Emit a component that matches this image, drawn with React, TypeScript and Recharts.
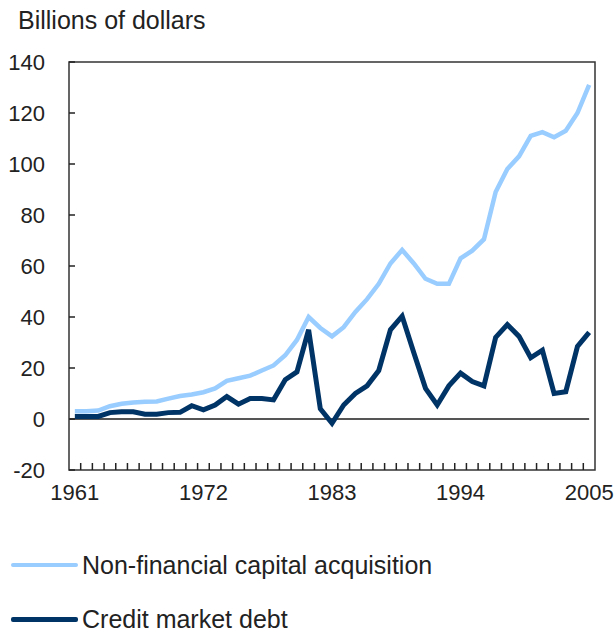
import { LineChart, Line, XAxis, YAxis, ReferenceLine, ReferenceArea } from "recharts";

const years = [
  1961, 1962, 1963, 1964, 1965, 1966, 1967, 1968, 1969, 1970, 1971, 1972, 1973, 1974, 1975,
  1976, 1977, 1978, 1979, 1980, 1981, 1982, 1983, 1984, 1985, 1986, 1987, 1988, 1989, 1990,
  1991, 1992, 1993, 1994, 1995, 1996, 1997, 1998, 1999, 2000, 2001, 2002, 2003, 2004, 2005,
];

// billions of dollars
const capitalAcquisition = [
  3, 3, 3.3, 5, 6, 6.5, 6.8, 6.9, 8, 9, 9.6, 10.5, 12, 15, 16,
  17, 19, 21, 25, 31, 40, 35.7, 32.4, 36, 42, 47, 53, 61, 66.3, 61,
  55, 53, 53, 63, 66, 70.5, 89, 98, 103, 111, 112.5, 110.5, 113, 120, 131,
];
const creditMarketDebt = [
  1, 1, 1, 2.5, 2.8, 2.8, 1.9, 1.9, 2.5, 2.6, 5.2, 3.6, 5.5, 8.8, 5.8,
  8, 8, 7.5, 15.4, 18.5, 35, 4, -1.7, 5.5, 10, 13, 19, 35, 40.3, 26,
  12, 5.5, 13, 18, 14.7, 13, 32, 37, 32.4, 24, 27, 10, 10.7, 28.5, 34,
];

const yearLabels = [1961, 1972, 1983, 1994, 2005];
const valueTicks = [-20, 0, 20, 40, 60, 80, 100, 120, 140];
const yearBoundaries = years.slice(1).map((y) => y - 0.5);

const seriesList = [
  { key: "capital", name: "Non-financial capital acquisition", color: "#99ccff", width: 4.5 },
  { key: "debt", name: "Credit market debt", color: "#003366", width: 5 },
];

const data = years.map((year, i) => ({
  year,
  capital: capitalAcquisition[i],
  debt: creditMarketDebt[i],
}));

const FONT = '"Liberation Sans", Arial, sans-serif';
const PLOT_BOTTOM = 470;

function ValueTick(props: any) {
  const { y, payload } = props;
  return (
    <g>
      <line x1={69} x2={75} y1={y} y2={y} stroke="#222" strokeWidth={1.5} />
      <text x={45} y={y} textAnchor="end" dominantBaseline="central" fontSize={22} fill="#222" fontFamily={FONT}>
        {payload.value}
      </text>
    </g>
  );
}

function YearTick(props: any) {
  const { x, payload } = props;
  return (
    <text x={x} y={PLOT_BOTTOM + 30} textAnchor="middle" fontSize={22} fill="#222" fontFamily={FONT}>
      {payload.value}
    </text>
  );
}

function MinorTick(props: any) {
  const { x } = props;
  return <line x1={x} x2={x} y1={PLOT_BOTTOM} y2={PLOT_BOTTOM - 7} stroke="#222" strokeWidth={1.5} />;
}

export default function App() {
  return (
    <div style={{ position: "absolute", left: 0, top: 0, width: 614, height: 635, background: "#fff", fontFamily: FONT }}>
      <div style={{ position: "absolute", left: 18, top: 8, fontSize: 25, lineHeight: "25px", color: "#222" }}>
        Billions of dollars
      </div>
      <LineChart width={614} height={635} data={data} margin={{ top: 62, right: 19, bottom: 125, left: 0 }}>
        <XAxis
          dataKey="year"
          type="number"
          domain={[1960.5, 2005.5]}
          ticks={yearLabels}
          tick={<YearTick />}
          tickLine={false}
          axisLine={false}
          height={40}
          interval={0}
        />
        <XAxis
          xAxisId="minor"
          dataKey="year"
          type="number"
          domain={[1960.5, 2005.5]}
          ticks={yearBoundaries}
          tick={<MinorTick />}
          tickLine={false}
          axisLine={false}
          mirror
          interval={0}
        />
        <YAxis
          type="number"
          domain={[-20, 140]}
          ticks={valueTicks}
          tick={<ValueTick />}
          tickLine={false}
          axisLine={false}
          width={69}
          interval={0}
        />
        <ReferenceArea x1={1960.5} x2={2005.5} y1={-20} y2={140} fill="none" stroke="#333" strokeWidth={1.5} />
        <ReferenceLine
          segment={[{ x: 1960.5, y: 0 }, { x: 2005, y: 0 }]}
          stroke="#555"
          strokeWidth={2}
        />
        {seriesList.map((s) => (
          <Line
            key={s.key}
            type="linear"
            dataKey={s.key}
            name={s.name}
            stroke={s.color}
            strokeWidth={s.width}
            dot={false}
            isAnimationActive={false}
          />
        ))}
      </LineChart>
      {seriesList.map((s, i) => (
        <div
          key={s.key}
          style={{ position: "absolute", left: 11, top: 565 + i * 54 - 14, height: 28, display: "flex", alignItems: "center" }}
        >
          <div style={{ width: 67, height: s.width, background: s.color, borderRadius: 2 }} />
          <span style={{ marginLeft: 4, fontSize: 25, color: "#222", whiteSpace: "nowrap" }}>{s.name}</span>
        </div>
      ))}
    </div>
  );
}
